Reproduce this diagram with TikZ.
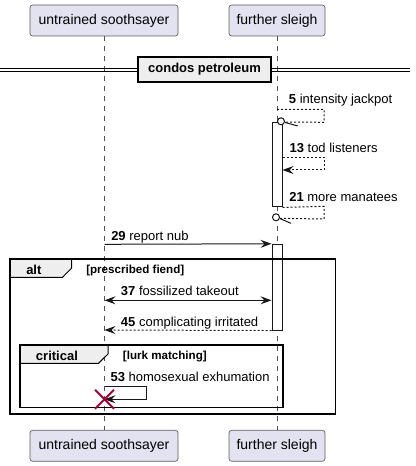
\documentclass[tikz,border=0pt]{standalone}
\usepackage{fontspec}
\setmainfont{Liberation Sans}
\usetikzlibrary{arrows.meta}
\definecolor{partfill}{HTML}{E2E2F0}
\definecolor{lnc}{HTML}{181818}
\definecolor{tabfill}{HTML}{EEEEEE}
\definecolor{xred}{HTML}{A80036}
\tikzset{
 part/.style={draw=lnc!70, line width=0.5pt, fill=partfill, rounded corners=2pt, minimum height=23.25pt, inner sep=0pt, font=\fontsize{10.5}{12}\selectfont},
 life/.style={draw=lnc!75, line width=0.45pt, dash pattern=on 3.75pt off 3.75pt},
 act/.style={draw=lnc, fill=white, line width=0.75pt, minimum width=7.5pt, inner sep=0pt},
 msg/.style={draw=lnc, line width=0.75pt, -{Stealth[length=8.25pt,width=6pt,inset=3pt]}},
 bimsg/.style={draw=lnc, line width=0.75pt, {Stealth[length=8.25pt,width=6pt,inset=3pt]}-{Stealth[length=8.25pt,width=6pt,inset=3pt]}},
 ret/.style={msg, dash pattern=on 1.5pt off 1.5pt},
 dotline/.style={draw=lnc, line width=0.75pt, dash pattern=on 1.5pt off 1.5pt},
 plain/.style={draw=lnc, line width=0.75pt},
 lost/.style={circle, draw=lnc, fill=white, line width=0.75pt, minimum size=5.25pt, inner sep=0pt},
 lbl/.style={anchor=base west, inner sep=0pt, font=\fontsize{9.75}{11}\selectfont},
 framebox/.style={draw=black, line width=1.125pt, inner sep=0pt},
 tabshape/.style={draw=black, line width=0.75pt, fill=tabfill},
 flbl/.style={anchor=base west, inner sep=0pt, font=\bfseries\fontsize{9.75}{11}\selectfont},
 glbl/.style={anchor=base west, inner sep=0pt, font=\bfseries\fontsize{8.7}{10}\selectfont},
 divbox/.style={draw=black, line width=1.125pt, fill=tabfill, minimum width=99.75pt, minimum height=18.75pt, inner sep=0pt, font=\bfseries\fontsize{9.75}{11}\selectfont},
 kill/.style={draw=xred, line width=1.5pt},
}
\begin{document}
\begin{tikzpicture}[x=0.75pt,y=-0.75pt]
\useasboundingbox (0,0) rectangle (415,466);
% participants
\node[part, minimum width=111pt] (pt1) at (104,20.5) {untrained soothsayer};
\node[part, minimum width=72pt] (pt2) at (277,20.5) {further sleigh};
\node[part, minimum width=111pt] (pb1) at (104,445.8) {untrained soothsayer};
\node[part, minimum width=72pt] (pb2) at (277,445.8) {further sleigh};
\draw[life] (pt1.south) -- (pb1.north);
\draw[life] (pt2.south) -- (pb2.north);
% divider
\coordinate (dvl1) at (0,68.5); \coordinate (dvr1) at (410,68.5);
\coordinate (dvl2) at (0,71.5); \coordinate (dvr2) at (410,71.5);
\draw[black, line width=0.75pt] (dvl1) -- (dvr1);
\draw[black, line width=0.75pt] (dvl2) -- (dvr2);
\node[divbox] (div) at (204.5,69.5) {condos petroleum};
% activations
\node[act, minimum height=63.5pt] (act1) at (277,164.65) {};
\node[act, minimum height=64.3pt] (act2) at (277,287.15) {};
% message 5
\coordinate (m5a) at (277,109.3);
\coordinate (m5b) at (324,109.3);
\coordinate (m5c) at (324,122.3);
\node[lost] (o5) at (281,121.3) {};
\coordinate (b5) at (297.7,126);
\draw[dotline] (m5a) -- (m5b) -- (m5c) -- (o5.-10);
\draw[plain] (o5.-16) -- (b5);
\node[lbl] (t5) at (288.7,104) {\textbf{5} intensity jackpot};
% message 13
\coordinate (m13b) at (324,157.3);
\coordinate (m13c) at (324,170);
\draw[ret] (act1.east |- m13b) -- (m13b) -- (m13c) -- (act1.east |- m13c);
\node[lbl] (t13) at (289.3,153) {\textbf{13} tod listeners};
% message 21
\coordinate (m21b) at (324,206.3);
\coordinate (m21c) at (324,219);
\node[lost] (o21) at (276,217.3) {};
\coordinate (b21) at (291,223.3);
\draw[dotline] (act1.south east) -- (m21b) -- (m21c) -- (o21.-15);
\draw[plain] (o21.-18) -- (b21);
\node[lbl] (t21) at (289,201.3) {\textbf{21} more manatees};
% message 29
\coordinate (m29) at (104.5,244.3);
\draw[msg] (m29) -- (act2.north west);
\node[lbl] (t29) at (111,240.3) {\textbf{29} report nub};
% alt frame
\coordinate (altnw) at (10,259);
\draw[tabshape] (altnw) -- (71.7,259) -- (71.7,268) -- (62.5,277.3) -- (10,277.3) -- cycle;
\node[framebox, minimum width=244.3pt, minimum height=116.25pt] (altf) at (172.85,336.5) {};
\node[flbl] (altl) at (26,274) {alt};
\node[glbl] (altg) at (86,273.2) {[prescribed fiend]};
% message 37
\coordinate (m37) at (104.5,300.3);
\draw[bimsg] (m37) -- (act2.west |- m37);
\node[lbl] (t37) at (120.7,295.3) {\textbf{37} fossilized takeout};
% message 45
\coordinate (m45) at (104.5,330);
\draw[ret] (act2.south west) -- (m45);
\node[lbl] (t45) at (120.7,326) {\textbf{45} complicating irritated};
% critical frame
\draw[tabshape] (20,345) -- (108,345) -- (108,354) -- (98.5,363.3) -- (20,363.3) -- cycle;
\node[framebox, minimum width=197.25pt, minimum height=46.7pt] (critf) at (151.5,376.15) {};
\node[flbl] (critl) at (35.7,360.3) {critical};
\node[glbl] (critg) at (122.7,359.9) {[lurk matching]};
% message 53
\coordinate (m53a) at (104.5,386.3);
\coordinate (m53b) at (146.7,386.3);
\coordinate (m53c) at (146.7,399.3);
\coordinate (m53d) at (104.5,399.3);
\draw[msg] (m53a) -- (m53b) -- (m53c) -- (m53d);
\node[lbl] (t53) at (110.3,381.3) {\textbf{53} homosexual exhumation};
% destroy
\coordinate (x1) at (95,389.8); \coordinate (x2) at (114,408.8);
\coordinate (x3) at (95,408.8); \coordinate (x4) at (114,389.8);
\draw[kill] (x1) -- (x2);
\draw[kill] (x3) -- (x4);
\end{tikzpicture}
\end{document}
